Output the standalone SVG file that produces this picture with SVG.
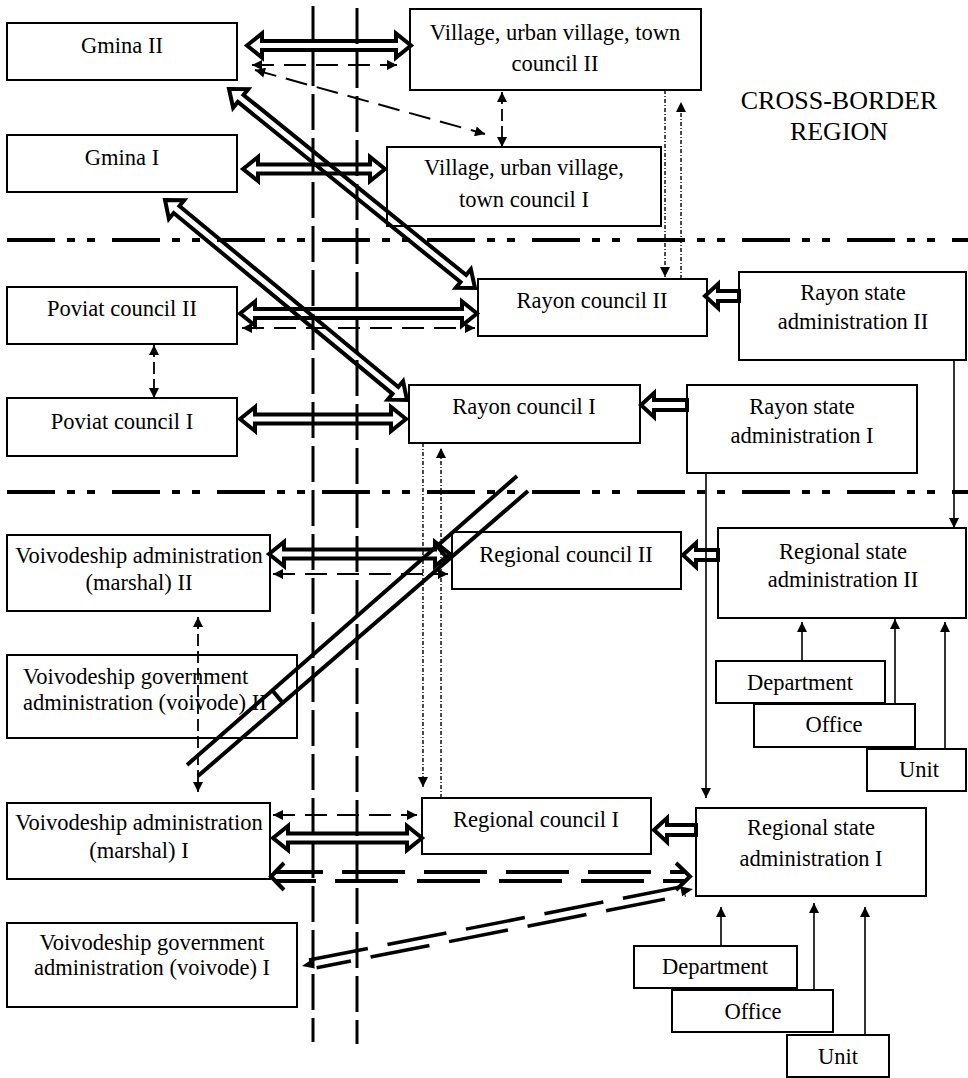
<svg xmlns="http://www.w3.org/2000/svg" width="968" height="1078" viewBox="0 0 968 1078">
<defs>
<style>
 .box{fill:#fff;stroke:#000;stroke-width:2}
 text{font-family:"Liberation Serif","Times New Roman",serif;font-size:22.5px;fill:#000}
 .c{text-anchor:middle}
 .big{font-size:26px}
 .hollow{fill:none;stroke:#000;stroke-width:4;stroke-linejoin:miter}
 .thin{fill:none;stroke:#000;stroke-width:1.6}
 .dash{fill:none;stroke:#000;stroke-width:2;stroke-dasharray:22 10}
 .vdash{fill:none;stroke:#000;stroke-width:1.8;stroke-dasharray:12 5}
 .dot{fill:none;stroke:#000;stroke-width:1.4;stroke-dasharray:4 2 1 2}
 .border{fill:none;stroke:#000;stroke-width:3;stroke-dasharray:36 8}
 .sep{fill:none;stroke:#000;stroke-width:4;stroke-dasharray:48 12 8 12 8 17}
 .dd{fill:none;stroke:#000;stroke-width:4;stroke-dasharray:63 19}
 .dd2{fill:none;stroke:#000;stroke-width:3.5;stroke-dasharray:60 20}
 .band{fill:none;stroke:#000;stroke-width:4}
 .chev{fill:none;stroke:#000;stroke-width:4;stroke-linejoin:miter}
</style>
<marker id="ah" viewBox="0 0 10 10" refX="10" refY="5" markerWidth="11" markerHeight="10" markerUnits="userSpaceOnUse" orient="auto-start-reverse">
 <path d="M0,0 L10,5 L0,10 z" fill="#000"/>
</marker>
</defs>
<rect x="0" y="0" width="968" height="1078" fill="#fff"/>

<!-- border lines and level separators -->
<g id="borders">
 <line class="border" x1="313" y1="6" x2="313" y2="1042"/>
 <line class="border" x1="357" y1="8" x2="357" y2="1044"/>
 <line class="sep" x1="7" y1="240" x2="968" y2="240"/>
 <line class="sep" x1="7" y1="492" x2="968" y2="492"/>
</g>

<g id="region-label">
 <text class="c big" x="839" y="109">CROSS-BORDER</text>
 <text class="c big" x="839" y="140">REGION</text>
</g>

<!-- nodes -->
<g id="gmina2"><rect class="box" x="7" y="23" width="230" height="57"/><text class="c" x="122" y="53">Gmina II</text></g>
<g id="gmina1"><rect class="box" x="7" y="135" width="230" height="57"/><text class="c" x="122" y="165">Gmina I</text></g>
<g id="village2"><rect class="box" x="410" y="9" width="291" height="81"/><text class="c" x="555" y="40">Village, urban village, town</text><text class="c" x="555" y="71">council II</text></g>
<g id="village1"><rect class="box" x="387" y="147" width="274" height="79"/><text class="c" x="524" y="175">Village, urban village,</text><text class="c" x="524" y="207">town council I</text></g>
<g id="poviat2"><rect class="box" x="7" y="287" width="230" height="57"/><text class="c" x="122" y="316">Poviat council II</text></g>
<g id="poviat1"><rect class="box" x="7" y="398" width="230" height="58"/><text class="c" x="122" y="429">Poviat council I</text></g>
<g id="rayon2"><rect class="box" x="478" y="279" width="229" height="57"/><text class="c" x="592" y="308">Rayon council II</text></g>
<g id="rayonstate2"><rect class="box" x="739" y="272" width="227" height="88"/><text class="c" x="853" y="300">Rayon state</text><text class="c" x="853" y="329">administration II</text></g>
<g id="rayon1"><rect class="box" x="409" y="385" width="231" height="58"/><text class="c" x="524" y="414">Rayon council I</text></g>
<g id="rayonstate1"><rect class="box" x="687" y="385" width="230" height="88"/><text class="c" x="802" y="414">Rayon state</text><text class="c" x="802" y="443">administration I</text></g>
<g id="marshal2"><rect class="box" x="7" y="535" width="263" height="76"/><text class="c" x="139" y="563">Voivodeship administration</text><text class="c" x="139" y="590">(marshal) II</text></g>
<g id="regional2"><rect class="box" x="452" y="532" width="229" height="57"/><text class="c" x="566" y="562">Regional council II</text></g>
<g id="regstate2"><rect class="box" x="718" y="528" width="248" height="90"/><text class="c" x="843" y="559">Regional state</text><text class="c" x="843" y="587">administration II</text></g>
<g id="voivode2"><rect class="box" x="7" y="655" width="290" height="83"/><text x="23" y="684">Voivodeship government</text><text x="23" y="710">administration (voivode) II</text></g>
<g id="dept2"><rect class="box" x="716" y="661" width="169" height="42"/><text class="c" x="800" y="690">Department</text></g>
<g id="office2"><rect class="box" x="754" y="704" width="161" height="43"/><text class="c" x="834" y="732">Office</text></g>
<g id="unit2"><rect class="box" x="867" y="749" width="99" height="42"/><text class="c" x="919" y="777">Unit</text></g>
<g id="marshal1"><rect class="box" x="7" y="803" width="263" height="76"/><text class="c" x="139" y="830">Voivodeship administration</text><text class="c" x="139" y="858">(marshal) I</text></g>
<g id="regional1"><rect class="box" x="422" y="798" width="229" height="56"/><text class="c" x="536" y="827">Regional council I</text></g>
<g id="regstate1"><rect class="box" x="696" y="808" width="230" height="88"/><text class="c" x="811" y="835">Regional state</text><text class="c" x="811" y="866">administration I</text></g>
<g id="voivode1"><rect class="box" x="7" y="923" width="290" height="84"/><text class="c" x="152" y="950">Voivodeship government</text><text class="c" x="152" y="975">administration (voivode) I</text></g>
<g id="dept1"><rect class="box" x="634" y="946" width="163" height="42"/><text class="c" x="715" y="974">Department</text></g>
<g id="office1"><rect class="box" x="672" y="990" width="161" height="42"/><text class="c" x="753" y="1019">Office</text></g>
<g id="unit1"><rect class="box" x="787" y="1035" width="102" height="42"/><text class="c" x="838" y="1064">Unit</text></g>

<!-- connectors -->
<g id="connectors">
 <!-- hollow two-way arrows -->
 <polygon class="hollow" points="247,45.5 262,33.5 262,41 396,41 396,33.5 411,45.5 396,57.5 396,50 262,50 262,57.5"/>
 <polygon class="hollow" points="243,169 258,157 258,164.5 370,164.5 370,157 385,169 370,181 370,173.5 258,173.5 258,181"/>
 <polygon class="hollow" points="240,313.5 255,301.5 255,309 462,309 462,301.5 477,313.5 462,325.5 462,318 255,318 255,325.5"/>
 <polygon class="hollow" points="240,419 255,407 255,414.5 391,414.5 391,407 406,419 391,431 391,423.5 255,423.5 255,431"/>
 <polygon class="hollow" points="269,554 284,542 284,549.5 435,549.5 435,542 450,554 435,566 435,558.5 284,558.5 284,566"/>
 <polygon class="hollow" points="273,838 288,826 288,833.5 407,833.5 407,826 422,838 407,850 407,842.5 288,842.5 288,850"/>
 <g transform="translate(229,89) rotate(38.97)">
  <polygon class="hollow" points="0,0 15,-12 15,-4.5 301.4,-4.5 301.4,-12 316.4,0 301.4,12 301.4,4.5 15,4.5 15,12"/>
 </g>
 <g transform="translate(165,200) rotate(39.57)">
  <polygon class="hollow" points="0,0 15,-12 15,-4.5 298.9,-4.5 298.9,-12 313.9,0 298.9,12 298.9,4.5 15,4.5 15,12"/>
 </g>

 <!-- block arrows from state administrations -->
 <polygon class="hollow" points="705,296 718,284 718,291 739,291 739,301 718,301 718,308"/>
 <polygon class="hollow" points="641,405 654,393 654,400 687,400 687,410 654,410 654,417"/>
 <polygon class="hollow" points="683,555 696,543 696,550 718,550 718,560 696,560 696,567"/>
 <polygon class="hollow" points="654,830 667,818 667,825 696,825 696,835 667,835 667,842"/>

 <!-- thin dashed two-way arrows -->
 <line class="dash" x1="252" y1="65" x2="397" y2="65" marker-start="url(#ah)" marker-end="url(#ah)"/>
 <line class="dash" x1="255" y1="70" x2="485" y2="134" marker-start="url(#ah)" marker-end="url(#ah)"/>
 <line class="dash" x1="242" y1="328" x2="475" y2="328" marker-start="url(#ah)" marker-end="url(#ah)"/>
 <line class="dash" x1="273" y1="574" x2="448" y2="574" marker-start="url(#ah)" marker-end="url(#ah)"/>
 <line class="dash" x1="273" y1="815" x2="417" y2="815" marker-start="url(#ah)" marker-end="url(#ah)"/>
 <line class="vdash" x1="502" y1="92" x2="502" y2="147" marker-start="url(#ah)" marker-end="url(#ah)"/>
 <line class="vdash" x1="154" y1="345" x2="154" y2="398" marker-start="url(#ah)" marker-end="url(#ah)"/>
 <line class="vdash" x1="198" y1="617" x2="198" y2="792" marker-start="url(#ah)" marker-end="url(#ah)"/>

 <!-- dotted links between council levels -->
 <line class="dot" x1="665" y1="90" x2="665" y2="277" marker-end="url(#ah)"/>
 <line class="dot" x1="681" y1="279" x2="681" y2="102" marker-end="url(#ah)"/>
 <line class="dot" x1="423" y1="443" x2="423" y2="787" marker-end="url(#ah)"/>
 <line class="dot" x1="441" y1="798" x2="441" y2="448" marker-end="url(#ah)"/>

 <!-- solid subordination arrows -->
 <line class="thin" x1="954" y1="360" x2="954" y2="528" marker-end="url(#ah)"/>
 <line class="thin" x1="706" y1="473" x2="706" y2="798" marker-end="url(#ah)"/>
 <line class="thin" x1="802" y1="661" x2="802" y2="622" marker-end="url(#ah)"/>
 <line class="thin" x1="895" y1="704" x2="895" y2="619" marker-end="url(#ah)"/>
 <line class="thin" x1="945" y1="749" x2="945" y2="622" marker-end="url(#ah)"/>
 <line class="thin" x1="721" y1="946" x2="721" y2="907" marker-end="url(#ah)"/>
 <line class="thin" x1="814" y1="990" x2="814" y2="903" marker-end="url(#ah)"/>
 <line class="thin" x1="865" y1="1035" x2="865" y2="907" marker-end="url(#ah)"/>

 <!-- double dashed links to the regional state administration -->
 <line class="dd" x1="276" y1="872" x2="684" y2="872" stroke-dashoffset="16"/>
 <line class="dd" x1="276" y1="881" x2="684" y2="881" stroke-dashoffset="23"/>
 <polyline class="chev" points="676,863 690,876.5 676,890"/>
 <polyline class="chev" points="284,863 271,876.5 284,890"/>
 <g transform="translate(302,966) rotate(-11.14)">
  <line class="dd2" x1="8" y1="-4.5" x2="388" y2="-4.5"/>
  <line class="dd2" x1="14" y1="4.5" x2="390" y2="4.5" stroke-dashoffset="25"/>
  <path d="M0,0 L12,-5 L12,5 z" fill="#000"/>
  <path d="M398.5,0 L386.5,-5 L386.5,5 z" fill="#000"/>
 </g>

 <!-- diagonal band -->
 <line class="band" x1="187" y1="765" x2="517" y2="476"/>
 <line class="band" x1="198" y1="776" x2="528" y2="491"/>
 <line class="band" x1="272" y1="690" x2="282" y2="702"/>
 <line class="band" x1="437" y1="546" x2="447" y2="558"/>
</g>
</svg>
